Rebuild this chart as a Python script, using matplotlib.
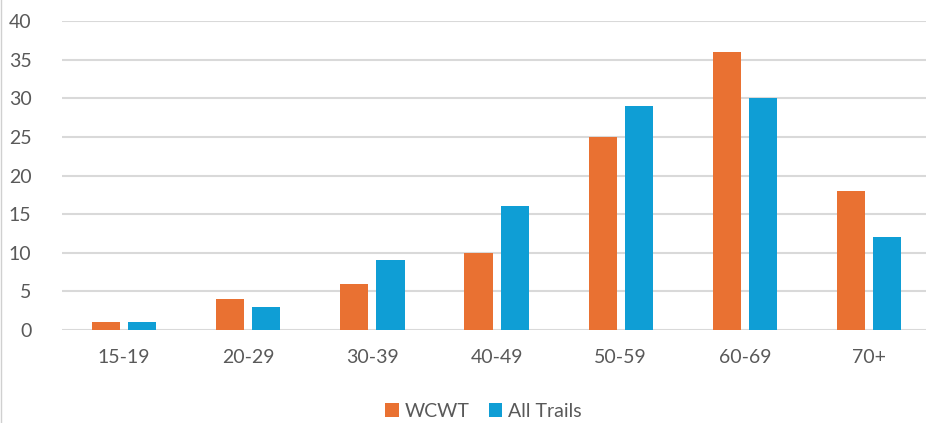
import numpy as np
import matplotlib.pyplot as plt
from matplotlib.lines import Line2D

plt.rcParams['font.family'] = ['Lato', 'DejaVu Sans']

age_groups = ['15-19', '20-29', '30-39', '40-49', '50-59', '60-69', '70+']
wcwt = [1, 4, 6, 10, 25, 36, 18]
all_trails = [1, 3, 9, 16, 29, 30, 12]

orange = '#E97132'
blue = '#0F9ED5'
text_gray = '#595959'
grid_gray = '#D9D9D9'

fig = plt.figure(figsize=(9.26, 4.23), dpi=100)
ax = fig.add_axes([0.067, 0.22, 0.9385, 0.73])

x = np.arange(len(age_groups))
w = 0.227
off = 0.146
ax.bar(x - off, wcwt, width=w, color=orange, label='WCWT', zorder=3)
ax.bar(x + off, all_trails, width=w, color=blue, label='All Trails', zorder=3)

ax.set_xlim(-0.5, len(age_groups) - 0.5)
ax.set_ylim(0, 40)
ax.set_yticks(range(0, 41, 5))
ax.set_xticks(x)
ax.set_xticklabels(age_groups)
ax.yaxis.grid(True, color=grid_gray, linewidth=1.5, zorder=0)
ax.set_axisbelow(True)
for s in ax.spines.values():
    s.set_visible(False)
ax.tick_params(length=0, labelsize=14, colors=text_gray)
ax.tick_params(axis='x', pad=14)
ax.tick_params(axis='y', pad=22)

ax.legend(loc='upper center', bbox_to_anchor=(0.485, -0.18), ncol=2, frameon=False,
          fontsize=14, labelcolor=text_gray, handlelength=0.7, handleheight=0.7,
          handletextpad=0.3, columnspacing=1.0)

# thin frame line on the left edge
fig.add_artist(Line2D([0.001, 0.001], [0, 1], color='#D0D0D0', linewidth=1))

fig.savefig('out.png', dpi=100)
